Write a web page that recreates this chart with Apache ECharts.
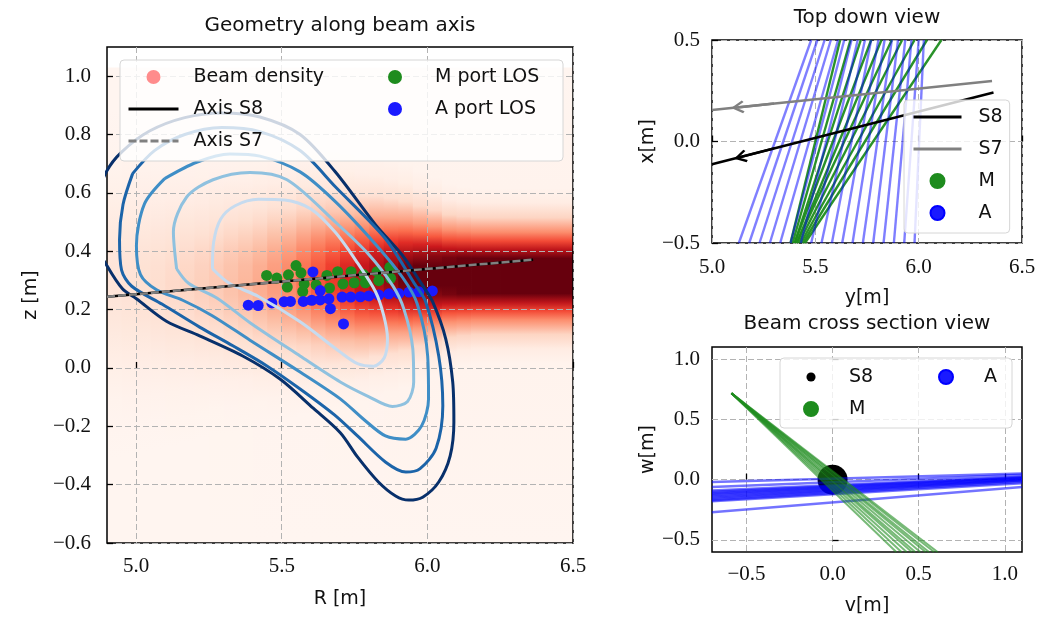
<!DOCTYPE html>
<html>
<head>
<meta charset="utf-8">
<script src="https://cdn.jsdelivr.net/npm/echarts@6/dist/echarts.min.js"></script>
<style>
  html, body { margin: 0; background: #fff; }
  #chart { width: 1040px; height: 624px; }
</style>
</head>
<body>
<div id="chart"></div>
<script>
// ---------- left panel: geometry along beam axis ----------
const rTicks = [5.0, 5.5, 6.0, 6.5]
const zTicks = [-0.6, -0.4, -0.2, 0.0, 0.2, 0.4, 0.6, 0.8, 1.0]

// beam density, one column per R step: peak level, centre z, half width
const beamR = [4.90, 4.95, 5.00, 5.05, 5.10, 5.15, 5.20, 5.25, 5.30, 5.35, 5.40, 5.45, 5.50, 5.55, 5.60, 5.65,
  5.70, 5.75, 5.80, 5.85, 5.90, 5.95, 6.00, 6.05, 6.10, 6.15, 6.20, 6.25, 6.30, 6.35, 6.40, 6.45]
const beamPeak = [0.10, 0.11, 0.12, 0.13, 0.145, 0.16, 0.18, 0.20, 0.23, 0.26, 0.30, 0.35, 0.41, 0.48, 0.56, 0.64,
  0.72, 0.80, 0.87, 0.94, 1.01, 1.07, 1.12, 1.16, 1.19, 1.20, 1.20, 1.20, 1.20, 1.20, 1.20, 1.20]
const beamCenter = [0.29, 0.29, 0.29, 0.29, 0.29, 0.295, 0.295, 0.30, 0.30, 0.30, 0.30, 0.305, 0.305, 0.31, 0.31, 0.31,
  0.31, 0.31, 0.315, 0.315, 0.315, 0.315, 0.315, 0.315, 0.315, 0.315, 0.315, 0.315, 0.315, 0.315, 0.315, 0.315]
const beamWidth = [0.20, 0.197, 0.194, 0.19, 0.187, 0.184, 0.18, 0.177, 0.174, 0.17, 0.167, 0.164, 0.16, 0.157, 0.154, 0.15,
  0.146, 0.142, 0.138, 0.133, 0.128, 0.12, 0.113, 0.105, 0.102, 0.10, 0.10, 0.10, 0.10, 0.10, 0.10, 0.10]
const beamTop = 1.03

// flux surfaces (outer to inner)
const flux1 = [[4.90, 0.350], [4.953, 0.271], [5.001, 0.237], [5.104, 0.160], [5.218, 0.110], [5.366, 0.041],
  [5.494, -0.038], [5.608, -0.138], [5.701, -0.222], [5.760, -0.305], [5.832, -0.391], [5.891, -0.439], [5.936, -0.453],
  [5.984, -0.443], [6.039, -0.391], [6.078, -0.302], [6.091, -0.185], [6.087, -0.048], [6.063, 0.100], [6.018, 0.227],
  [5.984, 0.282], [5.915, 0.385], [5.821, 0.492], [5.683, 0.673], [5.563, 0.800], [5.425, 0.860], [5.294, 0.874],
  [5.167, 0.858], [5.046, 0.812], [4.950, 0.740], [4.898, 0.673], [4.865, 0.58], [4.855, 0.47], [4.872, 0.40], [4.90, 0.350]]
const flux2 = [[4.988, 0.666], [4.955, 0.560], [4.943, 0.440], [4.950, 0.335], [4.985, 0.280], [5.090, 0.218], [5.218, 0.140],
  [5.332, 0.076], [5.449, 0.007], [5.563, -0.072], [5.680, -0.160], [5.760, -0.233], [5.857, -0.323], [5.926, -0.357],
  [5.975, -0.345], [6.030, -0.275], [6.053, -0.130], [6.039, 0.041], [5.994, 0.227], [5.955, 0.290], [5.856, 0.443],
  [5.684, 0.621], [5.563, 0.745], [5.425, 0.810], [5.294, 0.824], [5.167, 0.800], [5.063, 0.745], [4.988, 0.666]]
const flux3 = [[5.098, 0.649], [5.029, 0.563], [5.001, 0.420], [5.015, 0.320], [5.070, 0.268], [5.160, 0.232], [5.260, 0.180],
  [5.391, 0.095], [5.563, -0.014], [5.701, -0.106], [5.780, -0.175], [5.856, -0.233], [5.926, -0.244], [5.980, -0.199],
  [6.004, -0.106], [6.001, 0.041], [5.965, 0.220], [5.915, 0.310], [5.821, 0.425], [5.684, 0.570], [5.563, 0.672],
  [5.425, 0.726], [5.322, 0.733], [5.208, 0.705], [5.098, 0.649]]
const flux4 = [[5.139, 0.340], [5.128, 0.467], [5.173, 0.585], [5.264, 0.645], [5.391, 0.670], [5.518, 0.645], [5.684, 0.500],
  [5.798, 0.390], [5.881, 0.282], [5.920, 0.200], [5.950, 0.065], [5.953, -0.048], [5.932, -0.115], [5.880, -0.132],
  [5.798, -0.098], [5.701, -0.048], [5.563, 0.041], [5.391, 0.155], [5.277, 0.240], [5.180, 0.290], [5.139, 0.340]]
const flux5 = [[5.262, 0.340], [5.266, 0.430], [5.290, 0.510], [5.340, 0.556], [5.420, 0.578], [5.510, 0.576], [5.600, 0.545],
  [5.684, 0.465], [5.760, 0.360], [5.822, 0.261], [5.850, 0.180], [5.863, 0.100], [5.852, 0.035], [5.815, 0.006],
  [5.760, 0.015], [5.700, 0.055], [5.563, 0.158], [5.420, 0.245], [5.320, 0.290], [5.262, 0.340]]
const fluxColors = ['#08306b', '#1c64a9', '#3f8ec6', '#8fc1df', '#c6dbef']

// LOS intersections with the beam
const mPortR = [5.448, 5.483, 5.523, 5.549, 5.566, 5.519, 5.572, 5.577, 5.618, 5.655, 5.664, 5.692, 5.710, 5.738, 5.749,
  5.781, 5.787, 5.827, 5.833, 5.871, 5.874]
const mPortZ = [0.317, 0.308, 0.319, 0.351, 0.326, 0.277, 0.262, 0.288, 0.285, 0.317, 0.274, 0.330, 0.288, 0.330, 0.292,
  0.320, 0.292, 0.330, 0.299, 0.345, 0.307]
const aPortR = [5.385, 5.419, 5.466, 5.508, 5.530, 5.574, 5.603, 5.632, 5.662, 5.632, 5.607, 5.667, 5.712, 5.707, 5.737,
  5.770, 5.799, 5.833, 5.868, 5.902, 5.937, 5.971, 6.017]
const aPortZ = [0.215, 0.214, 0.223, 0.227, 0.228, 0.228, 0.232, 0.233, 0.237, 0.265, 0.329, 0.203, 0.151, 0.243, 0.243,
  0.244, 0.247, 0.250, 0.254, 0.255, 0.260, 0.261, 0.264]

const axisS8 = [[4.90, 0.244], [6.363, 0.371]]
const axisS7 = [[4.90, 0.244], [6.363, 0.371]]

// ---------- top right: top down view ----------
const yTicks = [5.0, 5.5, 6.0, 6.5]
const xTicks = [-0.5, 0.0, 0.5]
const losABottom = [5.13, 5.18, 5.23, 5.28, 5.33, 5.38, 5.43, 5.48, 5.53, 5.58, 5.63, 5.68, 5.73, 5.78, 5.83, 5.88, 5.93, 5.98]
const losATop = [5.48, 5.51, 5.545, 5.575, 5.61, 5.64, 5.675, 5.705, 5.74, 5.77, 5.805, 5.835, 5.87, 5.90, 5.935, 5.965, 6.00, 6.025]
const losMBottom = [5.38, 5.39, 5.40, 5.40, 5.41, 5.41, 5.42, 5.43, 5.44, 5.45]
const losMTop = [5.62, 5.67, 5.72, 5.77, 5.82, 5.87, 5.92, 5.98, 6.04, 6.11]
const topS8 = [[5.0, -0.112], [6.362, 0.241]]
const topS7 = [[5.0, 0.155], [6.355, 0.298]]
const arrowS8 = [[5.30, -0.034], [5.137, -0.077]]
const arrowS7 = [[5.30, 0.187], [5.124, 0.168]]

// ---------- bottom right: beam cross section ----------
const vTicks = [-0.5, 0.0, 0.5, 1.0]
const wTicks = [-0.5, 0.0, 0.5, 1.0]
const crossS8 = [[0, 0]]
const crossMStart = [-0.587, 0.717]
const crossMEndV = [0.37, 0.40, 0.43, 0.46, 0.48, 0.51, 0.54, 0.56, 0.59, 0.61]
const crossALeftW = [-0.02, -0.06, -0.09, -0.10, -0.11, -0.12, -0.13, -0.14, -0.15, -0.16, -0.17, -0.18, -0.27]
const crossARightW = [0.05, 0.04, 0.025, 0.02, 0.015, 0.01, 0.005, 0.0, -0.005, -0.01, -0.02, -0.03, -0.06]

// ---------- helpers ----------
const sans = "'DejaVu Sans', sans-serif"
const serif = "'Liberation Serif', serif"
const reds = ['#fff5f0', '#fee0d2', '#fcbba1', '#fc9272', '#fb6a4a', '#ef3b2c', '#cb181d', '#a50f15', '#67000d']

function hex (c) {
  return [1, 3, 5].map(i => parseInt(c.slice(i, i + 2), 16))
}
function redColor (v) {
  const t = Math.max(0, Math.min(1, v)) * 8
  const i = Math.min(7, Math.floor(t))
  const f = t - i
  const a = hex(reds[i])
  const b = hex(reds[i + 1])
  const c = a.map((x, k) => Math.round(x + (b[k] - x) * f))
  return `rgb(${c[0]},${c[1]},${c[2]})`
}
const fmt = v => (v < -1e-9 ? '\u2212' : '') + Math.abs(v).toFixed(1)
const tickFont = { fontFamily: serif, fontSize: 21, color: '#111' }

function valueAxis (gridIndex, min, max, ticks, margin, extra) {
  return Object.assign({
    gridIndex,
    type: 'value',
    min,
    max,
    axisLine: { show: false },
    axisTick: { show: true, inside: true, length: 6, customValues: ticks, lineStyle: { color: '#000', width: 1.3 } },
    axisLabel: Object.assign({ customValues: ticks, formatter: fmt, margin }, tickFont),
    splitLine: { show: true, lineStyle: { type: [6, 3], color: '#b3b3b3', width: 1 } },
    nameLocation: 'middle',
    nameTextStyle: { fontFamily: sans, fontSize: 19, color: '#111' }
  }, extra)
}

const beamData = beamR.map((r, i) => [r, beamPeak[i], beamCenter[i], beamWidth[i]])

function renderBeam (params, api) {
  const r = api.value(0)
  const peak = api.value(1)
  const c = api.value(2)
  const s = api.value(3)
  const p0 = api.coord([r, beamTop])
  const p1 = api.coord([r + 0.05, -0.6])
  const span = beamTop + 0.6
  const stops = [{ offset: 0, color: reds[0] }]
  const ks = [3, 2.5, 2, 1.5, 1.2, 0.9, 0.6, 0.3, 0, -0.3, -0.6, -0.9, -1.2, -1.5, -2, -2.5, -3]
  ks.forEach(k => {
    const z = c + k * s
    const off = (beamTop - z) / span
    if (off > 0 && off < 1) stops.push({ offset: off, color: redColor(peak * Math.exp(-k * k / 2)) })
  })
  stops.push({ offset: 1, color: reds[0] })
  return {
    type: 'rect',
    silent: true,
    shape: { x: p0[0], y: p0[1], width: p1[0] - p0[0] + 0.8, height: p1[1] - p0[1] },
    style: { fill: new echarts.graphic.LinearGradient(0, 0, 0, 1, stops) }
  }
}

const fluxSeries = [flux1, flux2, flux3, flux4, flux5].map((pts, i) => ({
  name: 'flux' + i,
  type: 'line',
  xAxisIndex: 0,
  yAxisIndex: 0,
  data: pts,
  smooth: 0.3,
  symbol: 'none',
  lineStyle: { color: fluxColors[i], width: 3 },
  silent: true
}))

const chevron = 'path://M10,0 L20,13.5 L17.2,15.5 L10,5.6 L2.8,15.5 L0,13.5 Z'
const smallDot = 'path://M0,0M20,20M10,3.5A6.5,6.5,0,1,1,10,16.5A6.5,6.5,0,1,1,10,3.5Z'
const titleFont = { fontFamily: sans, fontSize: 20, fontWeight: 'normal', color: '#111' }
const boxStyle = {
  selectedMode: false,
  backgroundColor: 'rgba(255,255,255,0.8)',
  borderColor: '#d6d6d6',
  borderWidth: 1,
  borderRadius: 4,
  itemGap: 12,
  itemHeight: 14
}

const option = {
  animation: false,
  backgroundColor: '#fff',
  title: [
    { text: 'Geometry along beam axis', left: 340, top: 16, textAlign: 'center', padding: 0, textStyle: titleFont },
    { text: 'Top down view', left: 867, top: 8, textAlign: 'center', padding: 0, textStyle: titleFont },
    { text: 'Beam cross section view', left: 867, top: 314, textAlign: 'center', padding: 0, textStyle: titleFont }
  ],
  grid: [
    { left: 107, top: 47, width: 466, height: 496, show: true, borderColor: '#000', borderWidth: 1.5, backgroundColor: 'transparent' },
    { left: 712, top: 40, width: 310, height: 203, show: true, borderColor: '#000', borderWidth: 1.5, backgroundColor: 'transparent' },
    { left: 712, top: 347, width: 310, height: 205, show: true, borderColor: '#000', borderWidth: 1.5, backgroundColor: 'transparent' }
  ],
  xAxis: [
    valueAxis(0, 4.9, 6.5, rTicks, 13, { name: 'R [m]', nameGap: 47 }),
    valueAxis(1, 5.0, 6.5, yTicks, 14, { name: 'y[m]', nameGap: 46 }),
    valueAxis(2, -0.7, 1.1, vTicks, 12, { name: 'v[m]', nameGap: 45 })
  ],
  yAxis: [
    valueAxis(0, -0.6, 1.1, zTicks, 16, { name: 'z [m]', nameGap: 66, nameRotate: 90 }),
    valueAxis(1, -0.5, 0.5, xTicks, 12, { name: 'x[m]', nameGap: 31, nameRotate: 90 }),
    valueAxis(2, -0.6, 1.1, wTicks, 12, { name: 'w[m]', nameGap: 31, nameRotate: 90 })
  ],
  legend: [
    Object.assign({}, boxStyle, {
      orient: 'vertical',
      left: 120,
      top: 60,
      height: 90,
      padding: [7, 10, 10, 7],
      itemWidth: 50,
      textStyle: { fontFamily: sans, fontSize: 19, color: '#111', width: 163, lineHeight: 20, padding: [0, 0, 0, 10] },
      data: [
        { name: 'Beam density', icon: 'circle', itemStyle: { color: '#ff8c8c' } },
        { name: 'Axis S8', itemStyle: { opacity: 0 }, lineStyle: { width: 3 } },
        { name: 'Axis S7', itemStyle: { opacity: 0 }, lineStyle: { width: 3 } },
        { name: 'M port LOS', icon: 'circle', textStyle: { width: 118 } },
        { name: 'A port LOS', icon: 'circle', textStyle: { width: 118 } }
      ]
    }),
    Object.assign({}, boxStyle, {
      orient: 'vertical',
      left: 904,
      top: 100,
      padding: [7, 7, 10, 8],
      itemWidth: 48,
      textStyle: { fontFamily: sans, fontSize: 19, color: '#111', lineHeight: 20, padding: [0, 0, 0, 12] },
      data: [
        { name: 'S8', itemStyle: { opacity: 0 }, lineStyle: { width: 3 } },
        { name: 'S7', itemStyle: { opacity: 0 }, lineStyle: { width: 3 } },
        { name: 'M', icon: 'circle', itemStyle: { color: '#1e8c1e', opacity: 1 } },
        { name: 'A', icon: 'circle', itemStyle: { color: '#1a1aff', opacity: 1 } }
      ]
    }),
    Object.assign({}, boxStyle, {
      orient: 'vertical',
      left: 780,
      top: 358,
      height: 55,
      padding: [9, 8, 9, 23],
      itemWidth: 40,
      formatter: n => n.replace('_', ''),
      textStyle: { fontFamily: sans, fontSize: 19, color: '#111', lineHeight: 20, width: 77, padding: [0, 0, 0, 13] },
      data: [
        { name: 'S8_', icon: smallDot, itemStyle: { color: '#000', opacity: 1 } },
        { name: 'M_', icon: 'circle', itemStyle: { color: '#1e8c1e', opacity: 1 } },
        { name: 'A_', icon: 'circle', itemStyle: { color: '#1a1aff', opacity: 1 }, textStyle: { width: 20 } }
      ]
    })
  ],
  series: [
    {
      name: 'Beam density',
      type: 'custom',
      xAxisIndex: 0,
      yAxisIndex: 0,
      z: -1,
      clip: true,
      itemStyle: { color: '#ff8c8c' },
      renderItem: renderBeam,
      encode: { x: 0, y: 2 },
      data: beamData
    },
    {
      name: 'M port LOS',
      type: 'scatter',
      xAxisIndex: 0,
      yAxisIndex: 0,
      symbolSize: 11,
      itemStyle: { color: '#1e8c1e', opacity: 1 },
      data: mPortR.map((r, i) => [r, mPortZ[i]])
    },
    {
      name: 'A port LOS',
      type: 'scatter',
      xAxisIndex: 0,
      yAxisIndex: 0,
      symbolSize: 11,
      itemStyle: { color: '#1a1aff', opacity: 1 },
      data: aPortR.map((r, i) => [r, aPortZ[i]])
    },
    ...fluxSeries,
    {
      name: 'Axis S8',
      type: 'line',
      xAxisIndex: 0,
      yAxisIndex: 0,
      symbol: 'none',
      lineStyle: { color: '#000', width: 2.5 },
      itemStyle: { color: '#000' },
      data: axisS8
    },
    {
      name: 'Axis S7',
      type: 'line',
      xAxisIndex: 0,
      yAxisIndex: 0,
      symbol: 'none',
      lineStyle: { color: '#808080', width: 2.5, type: [8, 3] },
      itemStyle: { color: '#808080' },
      data: axisS7
    },
    // top down view
    {
      name: 'M',
      type: 'lines',
      coordinateSystem: 'cartesian2d',
      xAxisIndex: 1,
      yAxisIndex: 1,
      clip: true,
      lineStyle: { color: '#1e8c1e', width: 2.4, opacity: 0.95 },
      data: losMBottom.map((b, i) => ({ coords: [[b, -0.5], [losMTop[i], 0.5]] }))
    },
    {
      name: 'A',
      type: 'lines',
      coordinateSystem: 'cartesian2d',
      xAxisIndex: 1,
      yAxisIndex: 1,
      clip: true,
      lineStyle: { color: '#0000ff', width: 2.4, opacity: 0.5 },
      data: losABottom.map((b, i) => ({ coords: [[b, -0.5], [losATop[i], 0.5]] }))
    },
    {
      name: 'S8',
      type: 'line',
      xAxisIndex: 1,
      yAxisIndex: 1,
      symbol: 'none',
      lineStyle: { color: '#000', width: 2.5 },
      itemStyle: { color: '#000' },
      data: topS8
    },
    {
      name: 'S7',
      type: 'line',
      xAxisIndex: 1,
      yAxisIndex: 1,
      symbol: 'none',
      lineStyle: { color: '#808080', width: 2.5 },
      itemStyle: { color: '#808080' },
      data: topS7
    },
    {
      name: 'arrows',
      type: 'lines',
      coordinateSystem: 'cartesian2d',
      xAxisIndex: 1,
      yAxisIndex: 1,
      symbol: ['none', chevron],
      symbolSize: [16, 13],
      silent: true,
      data: [
        { coords: arrowS8, lineStyle: { color: '#000', width: 2.5, opacity: 1 } },
        { coords: arrowS7, lineStyle: { color: '#808080', width: 2.5, opacity: 1 } }
      ]
    },
    // beam cross section view
    {
      name: 'S8_',
      type: 'scatter',
      xAxisIndex: 2,
      yAxisIndex: 2,
      z: 1,
      symbolSize: 30,
      itemStyle: { color: '#000', opacity: 1 },
      data: crossS8
    },
    {
      name: 'A_',
      type: 'lines',
      coordinateSystem: 'cartesian2d',
      xAxisIndex: 2,
      yAxisIndex: 2,
      z: 3,
      clip: true,
      lineStyle: { color: '#0000ff', width: 2.5, opacity: 0.55 },
      data: crossALeftW.map((w, i) => ({ coords: [[-0.7, w], [1.1, crossARightW[i]]] }))
    },
    {
      name: 'M_',
      type: 'lines',
      coordinateSystem: 'cartesian2d',
      xAxisIndex: 2,
      yAxisIndex: 2,
      z: 4,
      clip: true,
      lineStyle: { color: '#1e8c1e', width: 2, opacity: 0.6 },
      data: crossMEndV.map(v => ({ coords: [crossMStart, [v, -0.6]] }))
    }
  ]
}

const chart = echarts.init(document.getElementById('chart'), null, { renderer: 'canvas' })
chart.setOption(option)
</script>
</body>
</html>
